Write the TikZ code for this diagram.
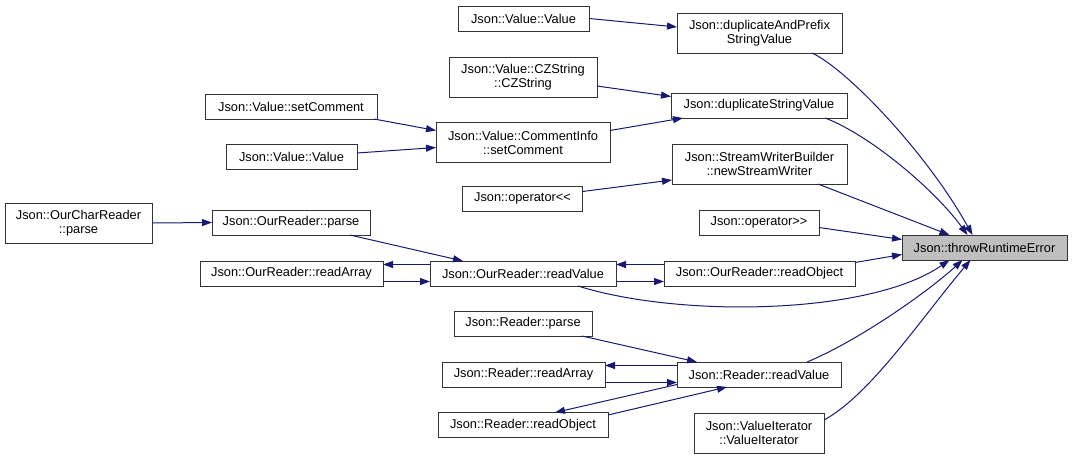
\documentclass[tikz,border=0pt]{standalone}
\usepackage{fontspec}
\newfontfamily\doxfont{Liberation Sans}
\usetikzlibrary{arrows.meta}
\definecolor{edgeblue}{HTML}{191970}
\definecolor{focusgray}{HTML}{BFBFBF}
\begin{document}
\begin{tikzpicture}[x=1pt,y=-1pt,inner sep=0pt,outer sep=0pt,line width=1pt,
fnblock/.style={draw=black!80,rectangle,align=center,minimum height=25pt,font=\doxfont\fontsize{12.8}{14}\selectfont},
tall/.style={minimum height=40pt},
call/.style={draw=edgeblue,-{Triangle[length=10pt,width=7pt]}}]
\useasboundingbox (0,0) rectangle (1072,459);
\draw (984.5,247.5) node[fnblock,fill=focusgray,minimum width=165pt] (tre) {Json::throwRuntimeError};
\draw (759.5,33) node[fnblock,tall,minimum width=165pt] (dap) {Json::duplicateAndPrefix\\StringValue};
\draw (523.5,18.5) node[fnblock,minimum width=131pt] (vvtop) {Json::Value::Value};
\draw (759,105.5) node[fnblock,minimum width=176pt] (dsv) {Json::duplicateStringValue};
\draw (523,77) node[fnblock,tall,minimum width=148pt] (czs) {Json::Value::CZString\\::CZString};
\draw (523,142.5) node[fnblock,tall,minimum width=174pt] (cis) {Json::Value::CommentInfo\\::setComment};
\draw (291,106.5) node[fnblock,minimum width=172pt] (vsc) {Json::Value::setComment};
\draw (291.5,157) node[fnblock,minimum width=131pt] (vvlow) {Json::Value::Value};
\draw (759.5,164) node[fnblock,tall,minimum width=175pt] (nsw) {Json::StreamWriterBuilder\\::newStreamWriter};
\draw (522.5,198.5) node[fnblock,minimum width=120pt] (opl) {Json::operator<{}<};
\draw (759,222.5) node[fnblock,minimum width=120pt] (opr) {Json::operator>{}>};
\draw (78.5,223) node[fnblock,tall,minimum width=147pt] (ocr) {Json::OurCharReader\\::parse};
\draw (291,222.5) node[fnblock,minimum width=158pt] (orp) {Json::OurReader::parse};
\draw (291.5,273.5) node[fnblock,minimum width=183pt] (ora) {Json::OurReader::readArray};
\draw (523,273.5) node[fnblock,minimum width=186pt] (orv) {Json::OurReader::readValue};
\draw (759.5,273.5) node[fnblock,minimum width=191pt] (oro) {Json::OurReader::readObject};
\draw (523,323.5) node[fnblock,minimum width=138pt] (rp) {Json::Reader::parse};
\draw (523.5,374.5) node[fnblock,minimum width=163pt] (rra) {Json::Reader::readArray};
\draw (759,374.5) node[fnblock,minimum width=164pt] (rrv) {Json::Reader::readValue};
\draw (523,425) node[fnblock,minimum width=170pt] (rro) {Json::Reader::readObject};
\draw (759,433) node[fnblock,tall,minimum width=130pt] (vit) {Json::ValueIterator\\::ValueIterator};
\draw[call] (vvtop.east) -- ([yshift=6pt]dap.west);
\draw[call] ([yshift=-9pt]czs.east) -- ([yshift=9pt]dsv.west);
\draw[call] ([yshift=12pt]cis.east) -- ([xshift=12pt]dsv.south west);
\draw[call] ([xshift=-3pt]vsc.south east) -- ([yshift=12pt]cis.west);
\draw[call] ([yshift=4pt]vvlow.east) -- ([yshift=-5pt]cis.west);
\draw[call] ([yshift=7pt]opl.east) -- ([yshift=-16pt]nsw.west);
\draw[call] (ocr.east) -- (orp.west);
\draw[call] ([xshift=-20pt]orp.south east) -- ([xshift=33pt]orv.north west);
\draw[call] ([yshift=9pt]orv.west) -- ([yshift=9pt]ora.east);
\draw[call] ([yshift=-8pt]ora.east) -- ([yshift=-8pt]orv.west);
\draw[call] ([yshift=9pt]oro.west) -- ([yshift=9pt]orv.east);
\draw[call] ([yshift=-8pt]orv.east) -- ([yshift=-8pt]oro.west);
\draw[call] ([xshift=-10pt]rp.south east) -- ([xshift=20pt]rrv.north west);
\draw[call] ([yshift=9pt]rrv.west) -- ([yshift=9pt]rra.east);
\draw[call] ([yshift=-8pt]rra.east) -- ([yshift=-8pt]rrv.west);
\draw[call] ([yshift=-10pt]rrv.west) -- ([xshift=117pt]rro.north west);
\draw[call] ([yshift=10pt]rro.east) -- ([xshift=50pt]rrv.south west);
\draw[call] ([xshift=-30pt]dap.south east) .. controls (845,68) and (925,150) .. ([xshift=-12pt]tre.north);
\draw[call] ([xshift=-22pt]dsv.south east) .. controls (870,135) and (935,190) .. ([xshift=-17pt]tre.north);
\draw[call] ([xshift=-29pt]nsw.south east) -- ([xshift=-35pt]tre.north);
\draw[call] ([yshift=-5pt]opr.east) -- ([yshift=8pt]tre.west);
\draw[call] ([yshift=11pt]oro.east) -- ([yshift=-7pt]tre.west);
\draw[call] ([xshift=-38pt]orv.south east) .. controls (680,318) and (870,315) .. ([xshift=-35pt]tre.south);
\draw[call] ([xshift=-34pt]rrv.north east) .. controls (860,340) and (930,290) .. ([xshift=-22pt]tre.south);
\draw[call] ([yshift=-7pt]vit.north east) .. controls (870,395) and (920,320) .. ([xshift=-14pt]tre.south);
\end{tikzpicture}
\end{document}
